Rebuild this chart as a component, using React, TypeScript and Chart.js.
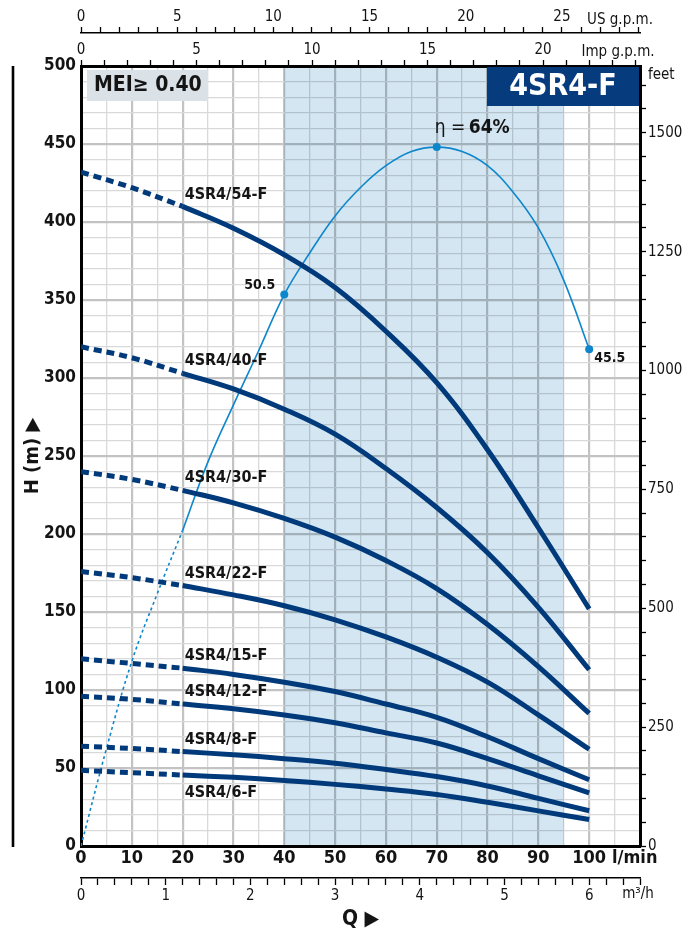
import React, { useEffect, useRef } from "react";
import { Chart, registerables } from "chart.js";

Chart.register(...registerables);

// ---------- data ----------
const FLOW_LPM = [0, 10, 20, 30, 40, 50, 60, 70, 80, 90, 100];
const PUMP_NAMES = ["4SR4/54-F", "4SR4/40-F", "4SR4/30-F", "4SR4/22-F", "4SR4/15-F", "4SR4/12-F", "4SR4/8-F", "4SR4/6-F"];
const HEAD_54F = [432, 422, 410, 396, 379, 358, 330, 297, 254, 204, 152];
const HEAD_40F = [320, 313, 303, 293, 280, 264, 242, 217, 188, 153, 113];
const HEAD_30F = [240, 235, 228, 220, 210, 198, 183, 165, 142, 115, 85];
const HEAD_22F = [176, 172, 167, 161, 154, 145, 134, 121, 105, 84, 62];
const HEAD_15F = [120, 117, 114, 110, 105, 99, 91, 82.5, 70, 56, 42.5];
const HEAD_12F = [96, 94, 91, 88, 84, 79, 72.5, 66, 56, 45, 34];
const HEAD_8F = [64, 62.5, 60.5, 58.5, 56, 53, 49, 44.5, 38.5, 30.5, 22.6];
const HEAD_6F = [48.5, 47, 45.5, 44, 42, 39.5, 36.5, 33, 28, 22.5, 17];
const HEADS = [HEAD_54F, HEAD_40F, HEAD_30F, HEAD_22F, HEAD_15F, HEAD_12F, HEAD_8F, HEAD_6F];
const DASHED_UNTIL = 20; // l/min, curves are dashed below this flow

const EFF_FLOW = [0, 5, 10, 15, 20, 25, 30, 35, 40, 45, 50, 55, 60, 65, 70, 75, 80, 85, 90, 95, 100];
const EFF_PCT = [0, 8.9, 16.9, 23.1, 28.9, 35.2, 40.4, 45.4, 50.5, 54.3, 57.7, 60.3, 62.3, 63.6, 64, 63.6, 62.3, 59.9, 56.6, 51.8, 45.5];
const EFF_MARK_FLOWS = [40, 70, 100];
const EFF_MARK_LABELS = ["50.5", "64%", "45.5"];
const BEST_RANGE = [40, 95]; // shaded flow band, l/min

const X_TICKS_LPM = [0, 10, 20, 30, 40, 50, 60, 70, 80, 90, 100];
const Q_MAX_LPM = 110;
const H_MAX_M = 500;
const EFF_SCALE_MAX = 500 / 7; // efficiency % mapped onto head scale
const LPM_PER_USGPM = 3.78541;
const LPM_PER_IMPGPM = 4.54609;
const LPM_PER_M3H = 1000 / 60;
const M_PER_FT = 0.3048;

// ---------- styles ----------
const FONT = "'Liberation Sans Narrow', 'DejaVu Sans Condensed', Roboto, 'Noto Sans', sans-serif";
const NAVY = "#003a7a";
const EFF_BLUE = "#0d86cc";
const TEXT = "#141414";
const TENSION = 0.4;

const overlayPlugin = {
  id: "overlay",
  beforeDatasetsDraw(chart: any) {
    const { ctx, chartArea, scales } = chart;
    const x0 = scales.x.getPixelForValue(BEST_RANGE[0]);
    const x1 = scales.x.getPixelForValue(BEST_RANGE[1]);
    ctx.save();
    ctx.globalCompositeOperation = "multiply";
    ctx.fillStyle = "#d3e6f2";
    ctx.fillRect(x0, chartArea.top, x1 - x0, chartArea.bottom - chartArea.top);
    ctx.restore();
  },
  afterDatasetsDraw(chart: any) {
    const { ctx, chartArea, scales } = chart;
    const xs = scales.x, ys = scales.y, ye = scales.yEff;
    ctx.save();
    // left decorative rule
    ctx.strokeStyle = "#000";
    ctx.lineWidth = 2.6;
    ctx.beginPath();
    ctx.moveTo(13, chartArea.top);
    ctx.lineTo(13, chartArea.bottom + 1);
    ctx.stroke();

    // MEI box
    ctx.fillStyle = "#dae1e7";
    ctx.fillRect(chartArea.left + 6, chartArea.top + 4, 121, 31);
    ctx.fillStyle = TEXT;
    ctx.font = `bold 21px ${FONT}`;
    ctx.textAlign = "left";
    ctx.textBaseline = "middle";
    ctx.fillText("MEI\u2265 0.40", chartArea.left + 13, chartArea.top + 20);

    // model box
    ctx.fillStyle = "#063c7e";
    ctx.fillRect(chartArea.right - 153, chartArea.top + 1, 152, 39);
    ctx.fillStyle = "#fff";
    ctx.font = `bold 30px ${FONT}`;
    ctx.textAlign = "center";
    ctx.fillText("4SR4-F", chartArea.right - 77, chartArea.top + 21);

    // curve labels
    ctx.fillStyle = TEXT;
    ctx.font = `bold 16px ${FONT}`;
    ctx.textAlign = "left";
    PUMP_NAMES.forEach((name, i) => {
      const h = HEADS[i][FLOW_LPM.indexOf(DASHED_UNTIL)];
      const off = i === PUMP_NAMES.length - 1 ? 18 : -12;
      ctx.fillText(name, xs.getPixelForValue(DASHED_UNTIL) + 2, ys.getPixelForValue(h) + off);
    });

    // efficiency labels
    EFF_MARK_FLOWS.forEach((q, i) => {
      const e = EFF_PCT[EFF_FLOW.indexOf(q)];
      const px = xs.getPixelForValue(q), py = ye.getPixelForValue(e);
      if (i === 0) {
        ctx.font = `bold 14px ${FONT}`;
        ctx.textAlign = "right";
        ctx.fillText(EFF_MARK_LABELS[i], px - 9, py - 9);
      } else if (i === 1) {
        ctx.textAlign = "left";
        ctx.font = `19px ${FONT}`;
        const pre = "\u03b7 = ";
        const sx = px - 2;
        ctx.fillText(pre, sx, py - 19);
        const w = ctx.measureText(pre).width;
        ctx.font = `bold 19px ${FONT}`;
        ctx.fillText(EFF_MARK_LABELS[i], sx + w - 2, py - 19);
      } else {
        ctx.font = `bold 14px ${FONT}`;
        ctx.textAlign = "left";
        ctx.fillText(EFF_MARK_LABELS[i], px + 5, py + 9);
      }
    });

    // unit labels
    ctx.fillStyle = TEXT;
    ctx.textAlign = "left";
    ctx.font = `bold 18px ${FONT}`;
    ctx.fillText("l/min", 612, chartArea.bottom + 12);
    ctx.textAlign = "center";
    ctx.font = `15px ${FONT}`;
    ctx.fillText("US g.p.m.", 620, 20);
    ctx.fillText("Imp g.p.m.", 618, 52);
    ctx.fillText("m\u00b3/h", 638, 894);
    ctx.textAlign = "left";
    ctx.fillText("feet", chartArea.right + 8, chartArea.top + 9);
    ctx.restore();
  },
};

function pts(xs: number[], ys: number[], from: number, to: number) {
  const out: { x: number; y: number }[] = [];
  xs.forEach((x, i) => {
    if (x >= from && x <= to) out.push({ x, y: ys[i] });
  });
  return out;
}

export default function App() {
  const ref = useRef<HTMLCanvasElement | null>(null);

  useEffect(() => {
    if (!ref.current) return;
    const datasets: any[] = [];
    HEADS.forEach((h, i) => {
      datasets.push({
        label: PUMP_NAMES[i] + " (ext)",
        data: pts(FLOW_LPM, h, 0, DASHED_UNTIL),
        borderColor: NAVY,
        borderWidth: 5,
        borderDash: [8, 5],
        pointRadius: 0,
        tension: TENSION,
        yAxisID: "y",
        xAxisID: "x",
      });
      datasets.push({
        label: PUMP_NAMES[i],
        data: pts(FLOW_LPM, h, DASHED_UNTIL, 100),
        borderColor: NAVY,
        borderWidth: 5,
        pointRadius: 0,
        tension: TENSION,
        yAxisID: "y",
        xAxisID: "x",
      });
    });
    datasets.push({
      label: "eff (ext)",
      data: pts(EFF_FLOW, EFF_PCT, 0, DASHED_UNTIL),
      borderColor: EFF_BLUE,
      borderWidth: 1.6,
      borderDash: [3, 3],
      pointRadius: 0,
      tension: TENSION,
      yAxisID: "yEff",
      xAxisID: "x",
    });
    datasets.push({
      label: "eff",
      data: pts(EFF_FLOW, EFF_PCT, DASHED_UNTIL, 100),
      borderColor: EFF_BLUE,
      backgroundColor: EFF_BLUE,
      borderWidth: 1.6,
      pointRadius: (c: any) => (EFF_MARK_FLOWS.includes(c.raw?.x) ? 4 : 0),
      pointBorderWidth: 0,
      tension: TENSION,
      yAxisID: "yEff",
      xAxisID: "x",
    });

    const tickFont = { family: FONT, size: 15 };
    const chart = new Chart(ref.current, {
      type: "line",
      data: { datasets },
      plugins: [overlayPlugin],
      options: {
        responsive: false,
        animation: false,
        devicePixelRatio: 1,
        layout: { padding: 0 },
        plugins: { legend: { display: false }, tooltip: { enabled: false } },
        scales: {
          x: {
            type: "linear",
            position: "bottom",
            weight: 0,
            min: 0,
            max: Q_MAX_LPM,
            ticks: {
              stepSize: 5,
              autoSkip: false,
              maxRotation: 0,
              padding: 2,
              color: TEXT,
              font: { family: FONT, size: 18, weight: "bold" },
              callback: (v: any) => (X_TICKS_LPM.includes(v) ? String(v) : ""),
            },
            grid: {
              drawTicks: false,
              color: (c: any) => (c.tick.value % 10 === 0 ? "#c3c3c3" : "#d9d9d9"),
              lineWidth: (c: any) => (c.tick.value % 10 === 0 ? 2.2 : 1.3),
            },
            border: { color: "#000", width: 3 },
            afterFit: (s: any) => { s.height = 32; },
          },
          x2: {
            type: "linear",
            position: "bottom",
            weight: 1,
            min: 0,
            max: Q_MAX_LPM / LPM_PER_M3H,
            ticks: {
              stepSize: 0.2,
              includeBounds: false,
              autoSkip: false,
              maxRotation: 0,
              padding: 2,
              color: TEXT,
              font: tickFont,
              callback: (v: any) => (Math.abs(v - Math.round(v)) < 1e-6 ? String(Math.round(v)) : ""),
            },
            grid: { drawOnChartArea: false, tickLength: 7, tickColor: "#000", tickWidth: 1.3 },
            border: { color: "#000", width: 1.5 },
            title: { display: true, text: "Q \u25B6", color: TEXT, font: { family: FONT, size: 21, weight: "bold" }, padding: { top: 0, bottom: 2 } },
            afterFit: (s: any) => { s.height = 56; },
          },
          x3: {
            type: "linear",
            position: "top",
            weight: 0,
            min: 0,
            max: Q_MAX_LPM / LPM_PER_IMPGPM,
            ticks: {
              stepSize: 1,
              includeBounds: false,
              autoSkip: false,
              maxRotation: 0,
              padding: 1,
              color: TEXT,
              font: tickFont,
              callback: (v: any) => (Math.round(v) % 5 === 0 ? String(Math.round(v)) : ""),
            },
            grid: { drawOnChartArea: false, tickLength: 6, tickColor: "#000", tickWidth: 1.3 },
            border: { color: "#000", width: 3 },
            afterFit: (s: any) => { s.height = 33; },
          },
          x4: {
            type: "linear",
            position: "top",
            weight: 1,
            min: 0,
            max: Q_MAX_LPM / LPM_PER_USGPM,
            ticks: {
              stepSize: 1,
              includeBounds: false,
              autoSkip: false,
              maxRotation: 0,
              padding: 1,
              color: TEXT,
              font: tickFont,
              callback: (v: any) => (Math.round(v) % 5 === 0 ? String(Math.round(v)) : ""),
            },
            grid: { drawOnChartArea: false, tickLength: 6, tickColor: "#000", tickWidth: 1.3 },
            border: { color: "#000", width: 1.6 },
            afterFit: (s: any) => { s.height = 33; },
          },
          y: {
            type: "linear",
            position: "left",
            weight: 0,
            min: 0,
            max: H_MAX_M,
            ticks: {
              stepSize: 10,
              autoSkip: false,
              padding: 5,
              color: TEXT,
              font: { family: FONT, size: 17, weight: "bold" },
              callback: (v: any) => (v % 50 === 0 ? String(v) : ""),
            },
            grid: {
              drawTicks: false,
              color: (c: any) => (c.tick.value % 50 === 0 ? "#c3c3c3" : "#d9d9d9"),
              lineWidth: (c: any) => (c.tick.value % 50 === 0 ? 2.2 : 1.3),
            },
            border: { color: "#000", width: 3 },
            title: { display: true, text: "H (m) \u25B6", color: TEXT, font: { family: FONT, size: 20, weight: "bold" }, padding: { top: 21, bottom: 0 } },
            afterFit: (s: any) => { s.width = 81; },
          },
          y2: {
            type: "linear",
            position: "right",
            weight: 0,
            min: 0,
            max: H_MAX_M / M_PER_FT,
            ticks: {
              stepSize: 50,
              includeBounds: false,
              autoSkip: false,
              padding: 2,
              color: TEXT,
              font: tickFont,
              callback: (v: any) => (Math.round(v) % 250 === 0 ? String(Math.round(v)) : ""),
            },
            grid: { drawOnChartArea: false, tickLength: 6, tickColor: "#000", tickWidth: 1.3 },
            border: { color: "#000", width: 3 },
            afterFit: (s: any) => { s.width = 52; },
          },
          yEff: {
            type: "linear",
            display: false,
            min: 0,
            max: EFF_SCALE_MAX,
          },
        },
      } as any,
    });
    return () => chart.destroy();
  }, []);

  return (
    <div style={{ position: "absolute", left: 0, top: 0, width: 692, height: 934, background: "#fff" }}>
      <canvas ref={ref} width={692} height={934} style={{ display: "block" }} />
    </div>
  );
}
